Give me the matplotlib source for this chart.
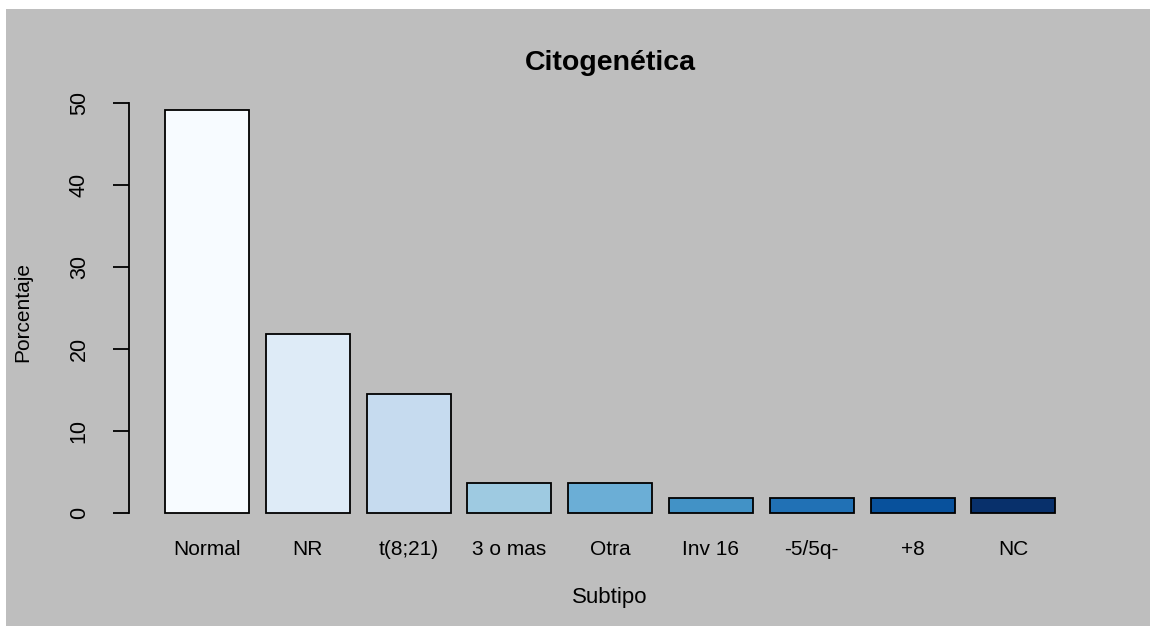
import matplotlib
matplotlib.use("Agg")
import matplotlib.pyplot as plt
from matplotlib.patches import Rectangle
import numpy as np

# porcentaje de cada subtipo citogenetico (n = 55)
subtipos = ["Normal", "NR", "t(8;21)", "3 o mas", "Otra", "Inv 16", "-5/5q-", "+8", "NC"]
porcentaje = [49.09, 21.82, 14.55, 3.64, 3.64, 1.82, 1.82, 1.82, 1.82]
# brewer.pal(9, "Blues")
colores = ["#F7FBFF", "#DEEBF7", "#C6DBEF", "#9ECAE1", "#6BAED6",
           "#4292C6", "#2171B5", "#08519C", "#08306B"]
yticks = [0, 10, 20, 30, 40, 50]

plt.rcParams['font.family'] = ['Liberation Sans', 'DejaVu Sans']

fig = plt.figure(figsize=(11.5, 6.26), dpi=100)
fig.patch.set_facecolor("white")
fig.patches.append(Rectangle((6 / 1150, 0), 1 - 6 / 1150, 1 - 9 / 626,
                             transform=fig.transFigure, facecolor="#bebebe",
                             edgecolor="none", zorder=-10))

ax = fig.add_axes([0.1125, 0.1543, 0.8362, 0.6957])
ax.set_facecolor("none")

# barplot al estilo de R: ancho 1, espacio 0.2
anchura, espacio = 1.0, 0.2
izq = espacio + np.arange(len(subtipos)) * (anchura + espacio)
centros = izq + anchura / 2
ax.bar(centros, porcentaje, width=anchura, color=colores,
       edgecolor="black", linewidth=1.3)

x0, x1 = izq[0], izq[-1] + anchura
ax.set_xlim(x0 - 0.04 * (x1 - x0), x1 + 0.04 * (x1 - x0))
ymax = max(porcentaje)
ax.set_ylim(-0.04 * ymax, ymax * 1.04)

for s in ["top", "right", "bottom"]:
    ax.spines[s].set_visible(False)
ax.spines["left"].set_bounds(0, 50)
ax.spines["left"].set_linewidth(1.3)

ax.set_yticks(yticks)
ax.set_yticklabels([str(v) for v in yticks], rotation=90, va="center")
ax.tick_params(axis="y", length=11.5, width=1.3, pad=17, labelsize=15.5)
ax.set_xticks(centros)
ax.set_xticklabels(subtipos)
for t in ax.get_xticklabels():
    t.set_va("center")
ax.tick_params(axis="x", length=0, pad=14.5, labelsize=15)

ax.set_xlabel("Subtipo", fontsize=16, va="center")
ax.xaxis.set_label_coords(0.5, -0.157)
ax.set_ylabel("Porcentaje", fontsize=15, va="center")
ax.yaxis.set_label_coords(-0.111, 0.5)

ax.text(0.5, 1.072, "Citogenética", transform=ax.transAxes, ha="center",
        va="center", fontsize=20.5, fontweight="bold")

fig.savefig("out.png", dpi=100, facecolor=fig.get_facecolor())
